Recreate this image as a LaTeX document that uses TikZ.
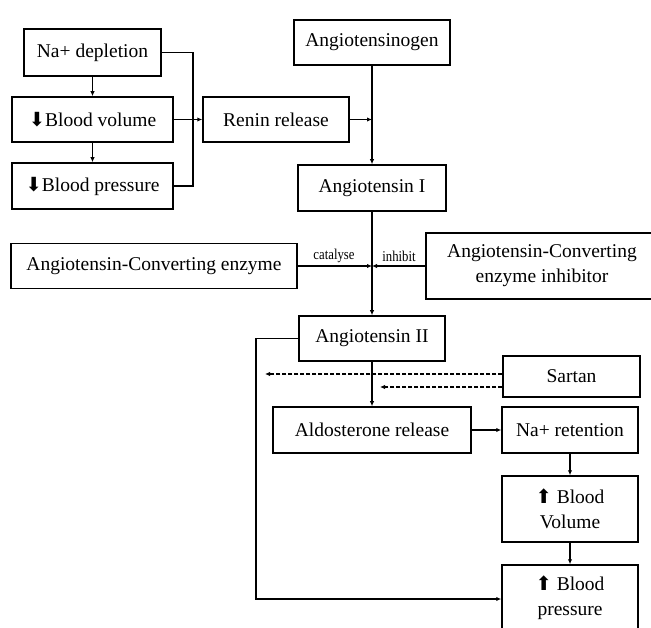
\documentclass[tikz,border=0pt]{standalone}
\usepackage{fontspec}
\setmainfont{Liberation Serif}
\newfontfamily\symfont{DejaVu Sans}
\usetikzlibrary{arrows.meta}
\newcommand{\dnarr}{{\symfont\char"2B07}}
\newcommand{\uparr}{{\symfont\char"2B06}}
\begin{document}
\begin{tikzpicture}[x=1pt,y=-1pt,
  box/.style={draw,line width=1.5pt,inner sep=0pt,align=center,font=\fontsize{19.5}{25}\selectfont},
  lbl/.style={inner sep=0pt,xscale=0.85,font=\fontsize{15}{16}\selectfont},
  conn/.style={line width=1.4pt},
  arr/.style={line width=1.4pt,-{Latex[length=5pt,width=4.5pt]}},
  dashln/.style={dash pattern=on 4pt off 2pt}]
\useasboundingbox (0,0) rectangle (651,628);
\clip (0,0) rectangle (651,628);
% boxes
\node[box,minimum width=137pt,minimum height=47pt] (nadep) at (92.5,52.5) {Na+ depletion};
\node[box,minimum width=161pt,minimum height=45pt] (bvol) at (92.5,119.5) {\dnarr Blood volume};
\node[box,minimum width=161pt,minimum height=46pt] (bpres) at (92.5,186) {\dnarr Blood pressure};
\node[box,minimum width=146pt,minimum height=45pt] (renin) at (276,119.5) {Renin release};
\node[box,minimum width=156pt,minimum height=45pt] (agen) at (372,42.5) {Angiotensinogen};
\node[box,minimum width=148pt,minimum height=46pt] (ang1) at (372,188) {Angiotensin I};
\node[box,minimum width=286pt,minimum height=45pt] (ace) at (154,266) {Angiotensin-Converting enzyme};
\node[box,minimum width=232pt,minimum height=66pt] (acei) at (542,266) {Angiotensin-Converting\\enzyme inhibitor};
\node[box,minimum width=146pt,minimum height=45pt] (ang2) at (372,338.5) {Angiotensin II};
\node[box,minimum width=137pt,minimum height=41pt] (sartan) at (571.5,376.5) {Sartan};
\node[box,minimum width=198pt,minimum height=46pt] (aldo) at (372,430) {Aldosterone release};
\node[box,minimum width=136pt,minimum height=46pt] (naret) at (570,430) {Na+ retention};
\node[box,minimum width=136pt,minimum height=66pt] (bvolup) at (570,509) {\uparr\ Blood\\Volume};
\node[box,minimum width=136pt,minimum height=66pt] (bpresup) at (570,598) {\uparr\ Blood\\pressure};
% labels
\node[lbl] (cat) at (334,256) {catalyse};
\node[lbl] (inh) at (399,256) {inhibit};
% coordinates
\coordinate (r1) at (193,52.5);
\coordinate (r2) at (193,186);
\coordinate (j1) at (372,119.5);
\coordinate (j2) at (372,266);
\coordinate (c1) at (256,338.5);
\coordinate (c2) at (256,599);
\coordinate (d1) at (265,374);
\coordinate (d2) at (380,387);
% connectors
\draw[arr] (nadep) -- (bvol);
\draw[arr] (bvol) -- (bpres);
\draw[conn] (nadep.east) -- (r1) -- (r2) -- (bpres.east);
\draw[arr] (bvol.east) -- (renin.west);
\draw[arr] (renin.east) -- (j1);
\draw[arr] (agen) -- (ang1);
\draw[arr] (ang1) -- (ang2);
\draw[arr] (ace.east) -- (j2);
\draw[arr] (acei.west) -- (j2);
\draw[arr] (ang2) -- (aldo);
\draw[arr] (aldo) -- (naret);
\draw[arr] (naret) -- (bvolup);
\draw[arr] (bvolup) -- (bpresup);
\draw[arr] (ang2.west) -- (c1) -- (c2) -- (c2 -| bpresup.west);
\draw[arr,dashln] (sartan.west |- d1) -- (d1);
\draw[arr,dashln] (sartan.west |- d2) -- (d2);
\end{tikzpicture}
\end{document}
